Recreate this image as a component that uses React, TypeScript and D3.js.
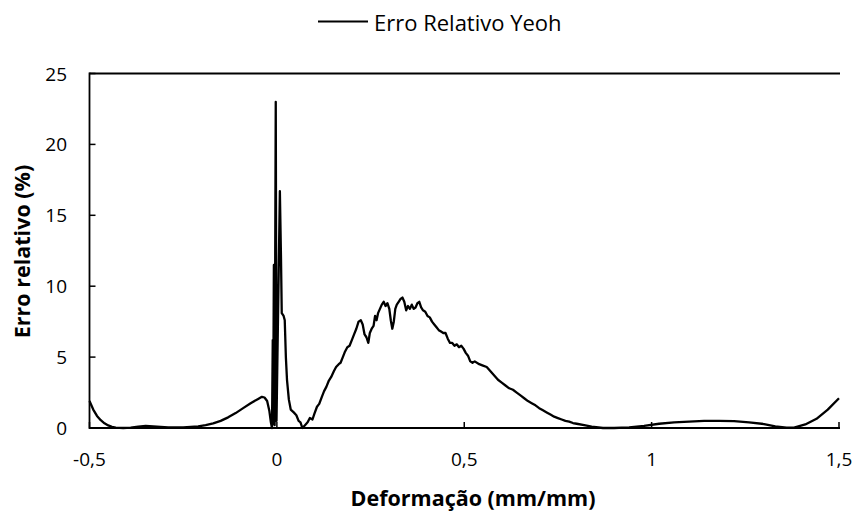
import React from "react";
import * as d3 from "d3";

const seriesName = "Erro Relativo Yeoh";
const xTicks = [-0.5, 0, 0.5, 1, 1.5];
const yTicks = [0, 5, 10, 15, 20, 25];

const strain = [
  -0.5, -0.49, -0.48, -0.47, -0.46, -0.45, -0.44, -0.43, -0.41, -0.39, -0.37, -0.35, -0.33, -0.31, -0.29, -0.27,
  -0.25, -0.23, -0.21, -0.19, -0.17, -0.15, -0.13, -0.11, -0.09, -0.07, -0.05, -0.04, -0.033, -0.026, -0.02,
  -0.016, -0.013, -0.011, -0.01, -0.008, -0.006, -0.003, -0.001, 0.008, 0.011, 0.013, 0.018, 0.021, 0.024, 0.027,
  0.032, 0.037, 0.045, 0.052, 0.058, 0.063, 0.068, 0.075, 0.082, 0.088, 0.095, 0.1, 0.107, 0.113, 0.12, 0.126,
  0.132, 0.138, 0.145, 0.152, 0.158, 0.165, 0.17, 0.176, 0.182, 0.188, 0.194, 0.2, 0.206, 0.212, 0.218, 0.224,
  0.229, 0.234, 0.239, 0.244, 0.248, 0.253, 0.258, 0.262, 0.266, 0.27, 0.275, 0.28, 0.285, 0.29, 0.295, 0.3,
  0.304, 0.308, 0.312, 0.316, 0.32, 0.325, 0.33, 0.335, 0.34, 0.345, 0.35, 0.355, 0.36, 0.365, 0.37, 0.375, 0.38,
  0.385, 0.39, 0.396, 0.402, 0.408, 0.414, 0.42, 0.426, 0.432, 0.438, 0.444, 0.45, 0.456, 0.462, 0.468, 0.474,
  0.48, 0.486, 0.492, 0.498, 0.504, 0.51, 0.516, 0.522, 0.528, 0.54, 0.55, 0.56, 0.57, 0.58, 0.59, 0.6, 0.61,
  0.62, 0.63, 0.64, 0.65, 0.66, 0.67, 0.68, 0.69, 0.7, 0.71, 0.72, 0.73, 0.74, 0.75, 0.76, 0.77, 0.78, 0.79, 0.8,
  0.82, 0.84, 0.87, 0.9, 0.94, 0.98, 1.02, 1.06, 1.1, 1.14, 1.18, 1.22, 1.26, 1.3, 1.33, 1.36, 1.38, 1.41, 1.44,
  1.47, 1.5,
];

const relError = [
  1.9, 1.3, 0.85, 0.55, 0.33, 0.18, 0.08, 0.02, 0.0, 0.02, 0.1, 0.15, 0.12, 0.08, 0.05, 0.04,
  0.05, 0.08, 0.12, 0.2, 0.32, 0.5, 0.75, 1.05, 1.4, 1.75, 2.05, 2.2, 2.15, 1.9, 1.2,
  0.4, 0.0, 6.2, 0.3, 11.5, 0.2, 23, 0.5, 16.7, 12, 8.1, 7.9, 7.6, 5, 3.4,
  2.0, 1.3, 1.1, 0.9, 0.5, 0.4, 0.0, 0.2, 0.4, 0.7, 0.6, 1.0, 1.5, 1.7, 2.2, 2.6,
  2.9, 3.3, 3.6, 4.0, 4.3, 4.5, 4.6, 5.0, 5.4, 5.7, 5.8, 6.2, 6.6, 7.0, 7.5, 7.6,
  7.3, 6.6, 6.4, 6.0, 6.7, 7.0, 7.2, 7.9, 7.6, 8.1, 8.4, 8.7, 8.9, 8.6, 8.8, 8.4,
  7.6, 7.0, 7.5, 8.4, 8.7, 8.9, 9.1, 9.2, 8.9, 8.3, 8.6, 8.4, 8.7, 8.4, 8.5, 8.8, 8.9,
  8.5, 8.3, 8.2, 7.9, 7.8, 7.5, 7.3, 7.1, 6.9, 6.8, 6.7, 6.7, 6.3, 6.0, 6.0, 5.8,
  5.9, 5.7, 5.8, 5.6, 5.3, 5.1, 4.7, 4.6, 4.7, 4.5, 4.4, 4.3, 4.0, 3.7, 3.4, 3.2, 3.0,
  2.8, 2.7, 2.5, 2.3, 2.1, 1.9, 1.75, 1.6, 1.4, 1.25, 1.1, 0.95, 0.8, 0.7, 0.6, 0.5, 0.45, 0.35, 0.3,
  0.2, 0.1, 0.0, 0.0, 0.05, 0.15, 0.3, 0.4, 0.45, 0.5, 0.5, 0.48, 0.4, 0.28, 0.12, 0.02, 0.03, 0.25, 0.65,
  1.3, 2.1,
];

const W = 854;
const H = 511;
const left = 89.5;
const right = 839;
const top = 73.5;
const bottom = 428;
const FONT = "'Open Sans', 'Noto Sans', sans-serif";

export default function App() {
  const x = d3.scaleLinear().domain([-0.5, 1.5]).range([left, right]);
  const y = d3.scaleLinear().domain([0, 25]).range([bottom, top]);
  const pts: [number, number][] = strain.map((s, i) => [s, relError[i]]);
  const line = d3
    .line<[number, number]>()
    .x((d) => x(d[0]))
    .y((d) => y(d[1]));

  return (
    <svg
      width={W}
      height={H}
      style={{ position: "absolute", left: 0, top: 0, background: "#fff" }}
      fontFamily={FONT}
    >
      <rect x={0} y={0} width={W} height={H} fill="#fff" />
      {/* legend */}
      <line x1={318} x2={368} y1={21.5} y2={21.5} stroke="#000" strokeWidth={2.2} />
      <text x={374} y={21.5} dominantBaseline="central" fontSize={22} fill="#000">
        {seriesName}
      </text>

      {/* top line */}
      <line x1={left} x2={right + 1} y1={top} y2={top} stroke="#000" strokeWidth={1.8} />

      {/* data line */}
      <path d={line(pts) || ""} fill="none" stroke="#000" strokeWidth={2.3} strokeLinejoin="round" />

      {/* axes */}
      <line x1={left} x2={left} y1={top - 0.9} y2={bottom + 1} stroke="#000" strokeWidth={1.8} />
      <line x1={left} x2={right + 1} y1={bottom} y2={bottom} stroke="#000" strokeWidth={1.8} />
      {yTicks.map((t) => (
        <g key={"y" + t}>
          <line x1={left} x2={left + 6} y1={y(t)} y2={y(t)} stroke="#000" strokeWidth={1.5} />
          <text x={67} y={y(t)} textAnchor="end" dominantBaseline="central" fontSize={19} fill="#000">
            {String(t)}
          </text>
        </g>
      ))}
      {xTicks.map((t) => (
        <g key={"x" + t}>
          <line x1={x(t)} x2={x(t)} y1={bottom} y2={bottom - 6} stroke="#000" strokeWidth={1.5} />
          <text x={x(t)} y={459} textAnchor="middle" dominantBaseline="central" fontSize={19} fill="#000">
            {String(t).replace(".", ",")}
          </text>
        </g>
      ))}

      {/* axis titles */}
      <text x={473} y={497} textAnchor="middle" dominantBaseline="central" fontSize={21.5} fontWeight="bold" fill="#000">
        Deformação (mm/mm)
      </text>
      <text
        transform={`translate(21, 251.5) rotate(-90)`}
        textAnchor="middle"
        dominantBaseline="central"
        fontSize={21.5}
        fontWeight="bold"
        fill="#000"
      >
        Erro relativo (%)
      </text>
    </svg>
  );
}
